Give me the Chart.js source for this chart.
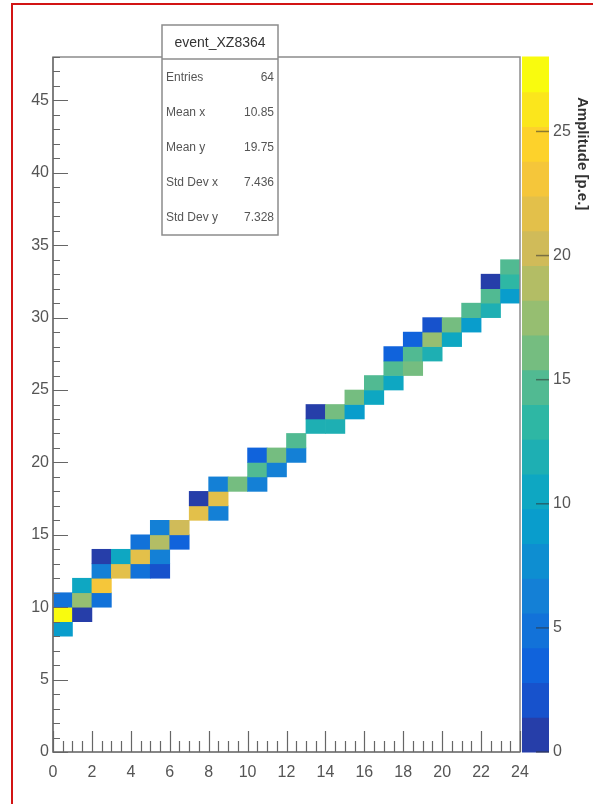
<!DOCTYPE html>
<html>
<head>
<meta charset="utf-8">
<title>event_XZ8364</title>
<script src="https://cdn.jsdelivr.net/npm/chart.js@4.4.1/dist/chart.umd.min.js"></script>
<style>
	html, body { margin: 0; padding: 0; background: #fff; }
	#chart { position: absolute; left: 0; top: 0; }
	#frame { position: absolute; left: 11px; top: 3px; width: 582px; height: 801px; box-sizing: border-box;
		border-left: 2px solid #d21414; border-top: 2px solid #d21414; pointer-events: none; }
</style>
</head>
<body>
<canvas id="chart" width="593" height="804"></canvas>
<div id="frame"></div>
<script>
// cell lower edges (x bin, y bin) and the amplitude in each cell
var xBins = [0, 0, 0, 1, 1, 1, 2, 2, 2, 2, 3, 3, 4, 4, 4, 5, 5, 5, 5, 6, 6, 7, 7, 8, 8, 8, 9,
	10, 10, 10, 11, 11, 12, 12, 13, 13, 14, 14, 15, 15, 16, 16, 17, 17, 17, 18, 18, 18,
	19, 19, 19, 20, 20, 21, 21, 22, 22, 22, 23, 23, 23];
var yBins = [8, 9, 10, 9, 10, 11, 10, 11, 12, 13, 12, 13, 12, 13, 14, 12, 13, 14, 15, 14, 15, 16, 17, 16, 17, 18, 18,
	18, 19, 20, 19, 20, 20, 21, 22, 23, 22, 23, 23, 24, 24, 25, 25, 26, 27, 26, 27, 28,
	27, 28, 29, 28, 29, 29, 30, 30, 31, 32, 31, 32, 33];
var amplitudes = [9, 27, 5, 1.2, 18, 11, 5, 23, 6, 1.2, 22, 10, 5, 22, 5, 2, 6, 19, 6, 3, 20, 22, 1.2, 6, 21, 6, 16,
	6, 14, 3, 6, 16, 6, 14, 12, 1.2, 12, 16, 9, 16, 11, 14, 11, 14, 4, 16, 15, 4,
	12, 17, 2, 11, 16, 9, 14, 12, 14, 1.2, 9, 13, 14];

var statLabels = ['Entries', 'Mean x', 'Mean y', 'Std Dev x', 'Std Dev y'];
var statValues = ['64', '10.85', '19.75', '7.436', '7.328'];
var histName = 'event_XZ8364';
var zTitle = 'Amplitude [p.e.]';

var xMax = 24, yMax = 48, zMax = 28, nLevels = 20;

// ROOT kBird palette
var birdStops = [0, 0.125, 0.25, 0.375, 0.5, 0.625, 0.75, 0.875, 1];
var birdRed = [0.2082, 0.0592, 0.0780, 0.0232, 0.1802, 0.5301, 0.8186, 0.9956, 0.9764];
var birdGreen = [0.1664, 0.3599, 0.5041, 0.6419, 0.7178, 0.7492, 0.7328, 0.7862, 0.9832];
var birdBlue = [0.5293, 0.8684, 0.8385, 0.7914, 0.6425, 0.4662, 0.3499, 0.1968, 0.0539];

function birdColor(f) {
	var i = 0;
	while (i < birdStops.length - 2 && f > birdStops[i + 1]) {
		i++;
	}
	var t = (f - birdStops[i]) / (birdStops[i + 1] - birdStops[i]);
	var c = function (arr) {
		return Math.round(255 * (arr[i] + (arr[i + 1] - arr[i]) * t));
	};
	return 'rgb(' + c(birdRed) + ',' + c(birdGreen) + ',' + c(birdBlue) + ')';
}

function levelColor(k) {
	return birdColor(Math.min(1, (k + 0.99) / nLevels));
}

function valueColor(v) {
	var k = Math.floor(v / (zMax / nLevels));
	return levelColor(Math.max(0, Math.min(nLevels - 1, k)));
}

var cells = xBins.map(function (x, i) {
	return {x: x + 0.5, y: [yBins[i], yBins[i] + 1]};
});

var labelFont = {family: '"Liberation Sans", Arial, sans-serif', size: 16};

var rootStyle = {
	id: 'rootStyle',
	afterDraw: function (chart) {
		var ctx = chart.ctx,
			area = chart.chartArea,
			xs = chart.scales.x,
			ys = chart.scales.y,
			zs = chart.scales.amp,
			v, p, k;

		ctx.save();

		// colour palette bar
		var barLeft = area.right + 2, barWidth = 27;
		for (k = 0; k < nLevels; k++) {
			var top = zs.getPixelForValue((k + 1) * zMax / nLevels),
				bottom = zs.getPixelForValue(k * zMax / nLevels);
			ctx.fillStyle = levelColor(k);
			ctx.fillRect(barLeft, top - 0.5, barWidth, bottom - top + 1);
		}
		ctx.strokeStyle = 'rgba(50,50,50,0.55)';
		ctx.lineWidth = 1.5;
		for (v = 0; v <= 25; v += 5) {
			p = zs.getPixelForValue(v);
			ctx.beginPath();
			ctx.moveTo(barLeft + barWidth - 13, p);
			ctx.lineTo(barLeft + barWidth, p);
			ctx.stroke();
		}

		// frame
		ctx.strokeStyle = '#8c8c8c';
		ctx.lineWidth = 1.5;
		ctx.strokeRect(area.left, area.top, area.right - area.left, area.bottom - area.top);

		// axes with inner ticks
		ctx.strokeStyle = '#666';
		ctx.lineWidth = 1.2;
		ctx.beginPath();
		ctx.moveTo(area.left, area.top);
		ctx.lineTo(area.left, area.bottom);
		ctx.lineTo(area.right, area.bottom);
		for (v = 0; v <= yMax; v += 1) {
			p = Math.round(ys.getPixelForValue(v)) + 0.5;
			ctx.moveTo(area.left, p);
			ctx.lineTo(area.left + (v % 5 === 0 ? 15 : 7), p);
		}
		for (v = 0; v <= xMax; v += 0.5) {
			p = Math.round(xs.getPixelForValue(v)) + 0.5;
			ctx.moveTo(p, area.bottom);
			ctx.lineTo(p, area.bottom - (v % 2 === 0 ? 21 : 11));
		}
		ctx.stroke();

		// palette axis title
		ctx.translate(582, 97);
		ctx.rotate(Math.PI / 2);
		ctx.fillStyle = '#333';
		ctx.font = 'bold 15px "Liberation Sans", Arial, sans-serif';
		ctx.textAlign = 'left';
		ctx.textBaseline = 'middle';
		ctx.fillText(zTitle, 0, 0);
		ctx.setTransform(1, 0, 0, 1, 0, 0);

		// statistics box
		var bx = 162, by = 25, bw = 116, bh = 210;
		ctx.fillStyle = '#fff';
		ctx.fillRect(bx, by, bw, bh);
		ctx.strokeStyle = '#8c8c8c';
		ctx.lineWidth = 1.5;
		ctx.strokeRect(bx, by, bw, bh);
		ctx.beginPath();
		ctx.moveTo(bx, by + 34);
		ctx.lineTo(bx + bw, by + 34);
		ctx.stroke();

		ctx.fillStyle = '#333';
		ctx.textBaseline = 'middle';
		ctx.textAlign = 'center';
		ctx.font = '14px "Liberation Sans", Arial, sans-serif';
		ctx.fillText(histName, bx + bw / 2, by + 18);

		ctx.fillStyle = '#555';
		ctx.font = '12px "Liberation Sans", Arial, sans-serif';
		statLabels.forEach(function (label, i) {
			var ty = by + 53 + i * 35;
			ctx.textAlign = 'left';
			ctx.fillText(label, bx + 4, ty);
			ctx.textAlign = 'right';
			ctx.fillText(statValues[i], bx + bw - 4, ty);
		});

		ctx.restore();
	}
};

new Chart(document.getElementById('chart'), {
	type: 'bar',
	data: {
		datasets: [{
			data: cells,
			xAxisID: 'x',
			yAxisID: 'y',
			backgroundColor: function (context) {
				return valueColor(amplitudes[context.dataIndex]);
			},
			borderWidth: 0,
			barPercentage: 1,
			categoryPercentage: 1
		}]
	},
	options: {
		responsive: false,
		animation: false,
		layout: {padding: {top: 57, left: 0, right: 0, bottom: 0}},
		plugins: {
			legend: {display: false},
			tooltip: {enabled: false}
		},
		scales: {
			x: {
				type: 'linear',
				min: 0,
				max: xMax,
				offset: false,
				grid: {display: false, drawTicks: false},
				border: {display: false},
				ticks: {stepSize: 2, padding: 11, color: '#555', font: labelFont, maxRotation: 0, autoSkip: false},
				afterFit: function (scale) { scale.height = 52; }
			},
			y: {
				type: 'linear',
				min: 0,
				max: yMax,
				grid: {display: false, drawTicks: false},
				border: {display: false},
				ticks: {stepSize: 5, padding: 4, color: '#555', font: labelFont, includeBounds: false},
				afterFit: function (scale) { scale.width = 53; }
			},
			amp: {
				type: 'linear',
				axis: 'y',
				position: 'right',
				min: 0,
				max: zMax,
				grid: {display: true, drawOnChartArea: false, drawTicks: true, tickLength: 29, color: 'rgba(0,0,0,0)'},
				border: {display: false},
				ticks: {stepSize: 5, padding: 4, color: '#555', font: labelFont, includeBounds: false},
				afterFit: function (scale) { scale.width = 73; }
			}
		}
	},
	plugins: [rootStyle]
});
</script>
</body>
</html>
